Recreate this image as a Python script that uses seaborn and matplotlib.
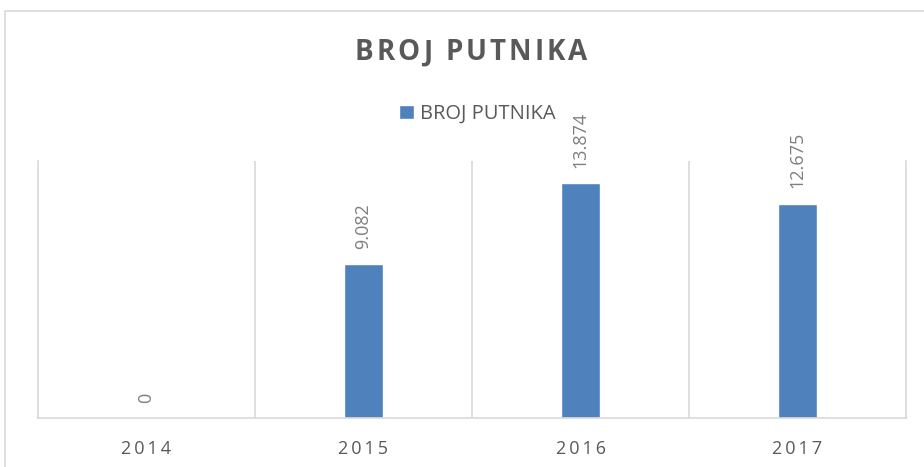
import matplotlib
matplotlib.use("Agg")
import matplotlib.pyplot as plt
import seaborn as sns
from matplotlib.patches import Rectangle
from matplotlib.font_manager import FontProperties
from matplotlib.textpath import TextToPath

# data
years = ["2014", "2015", "2016", "2017"]
passengers = [0, 9082, 13874, 12675]
series_name = "BROJ PUTNIKA"
chart_title = "BROJ PUTNIKA"

BAR_COLOR = "#4f81bd"
GRID_COLOR = "#d9d9d9"
TEXT_DARK = "#595959"
TEXT_LIGHT = "#7f7f7f"
THIN = "\u2009"
W, H = 924, 467


def tracked_title(fig, text, xc, yc, track, fp, color):
    # matplotlib has no letter spacing, so place glyphs one by one
    ttp = TextToPath()
    scale = fig.dpi / 72.0
    widths = [ttp.get_text_width_height_descent(ch, fp, ismath=False)[0] * scale
              for ch in text]
    total = sum(widths) + track * (len(text) - 1)
    x = xc - total / 2
    for ch, w in zip(text, widths):
        if ch != " ":
            fig.text(x / W, 1 - yc / H, ch, fontproperties=fp, color=color,
                     ha="left", va="center")
        x += w + track


sns.set_theme(style="white")
plt.rcParams["font.family"] = ["Open Sans", "DejaVu Sans"]

fig = plt.figure(figsize=(W / 100, H / 100), dpi=100)
ax = fig.add_axes([38 / W, 49 / H, 868 / W, 257 / H])

sns.barplot(x=years, y=passengers, color=BAR_COLOR, width=0.184,
            saturation=1, ax=ax, label=series_name)

ax.set_xlim(-0.5, len(years) - 0.5)
ax.set_ylim(0, 15200)
ax.set_yticks([])
ax.set_xlabel("")
ax.set_ylabel("")

# category separators
for b in range(1, len(years)):
    ax.axvline(b - 0.5, color=GRID_COLOR, lw=1.2, zorder=0)
for side in ["left", "right", "bottom"]:
    ax.spines[side].set_color(GRID_COLOR)
    ax.spines[side].set_linewidth(1.2)
ax.spines["top"].set_visible(False)

# spaced tick labels
ax.set_xticks(range(len(years)))
ax.set_xticklabels([THIN.join(y) for y in years], color=TEXT_DARK, fontsize=13)
ax.tick_params(axis="x", length=0, pad=16)

# rotated value labels
for i, v in enumerate(passengers):
    txt = f"{v:,}".replace(",", ".")
    ax.annotate(txt, (i, v), xytext=(0, 11), textcoords="offset points",
                rotation=90, ha="center", va="bottom", fontsize=13,
                color=TEXT_LIGHT)

title_fp = FontProperties(family="Open Sans", weight="bold", size=20)
tracked_title(fig, chart_title, 471, 53, 3.0, title_fp, TEXT_DARK)

leg = ax.legend(loc="center", bbox_to_anchor=(477 / W, 1 - 114 / H),
                bbox_transform=fig.transFigure, frameon=False, fontsize=14.5,
                handlelength=0.75, handleheight=0.75, handletextpad=0.3)
for t in leg.get_texts():
    t.set_color(TEXT_DARK)

# chart border (cropped at right and bottom)
fig.patches.append(Rectangle((5 / W, -0.1), 1.0, 1 - 11 / H + 0.1,
                             transform=fig.transFigure, fill=False,
                             edgecolor=GRID_COLOR, lw=1.2))

fig.savefig("out.png", dpi=100)
